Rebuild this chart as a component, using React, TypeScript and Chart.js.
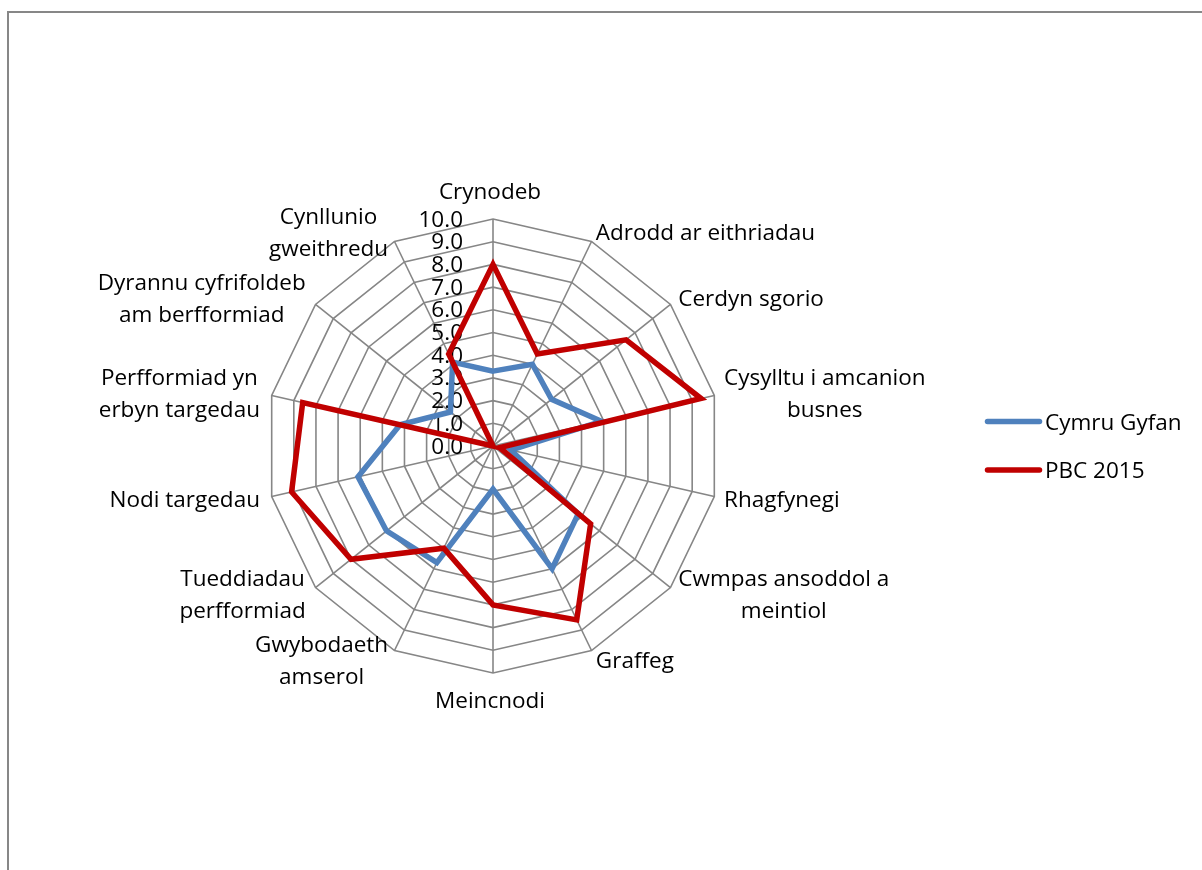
import React, { useEffect, useRef } from "react";
import { Chart, registerables } from "chart.js";

Chart.register(...registerables);

// ---- data ----
const categories: string[][] = [
  ["Crynodeb"],
  ["Adrodd ar eithriadau"],
  ["Cerdyn sgorio"],
  ["Cysylltu i amcanion", "busnes"],
  ["Rhagfynegi"],
  ["Cwmpas ansoddol a", "meintiol"],
  ["Graffeg"],
  ["Meincnodi"],
  ["Gwybodaeth", "amserol"],
  ["Tueddiadau", "perfformiad"],
  ["Nodi targedau"],
  ["Perfformiad yn", "erbyn targedau"],
  ["Dyrannu cyfrifoldeb", "am berfformiad"],
  ["Cynllunio", "gweithredu"],
];
const seriesNames = ["Cymru Gyfan", "PBC 2015"];
const cymruGyfan = [3.3, 4.0, 3.3, 4.9, 0.8, 4.8, 6.0, 1.9, 5.7, 6.0, 6.1, 4.2, 2.4, 4.1];
const pbc2015 = [8.0, 4.5, 7.5, 9.4, 0.3, 5.5, 8.5, 7.0, 5.0, 8.0, 9.1, 8.6, 0.0, 4.5];
const tickValues = [0, 1, 2, 3, 4, 5, 6, 7, 8, 9, 10];
const tickLabels = ["0.0", "1.0", "2.0", "3.0", "4.0", "5.0", "6.0", "7.0", "8.0", "9.0", "10.0"];

// ---- styles ----
const FONT = '"Open Sans", "Noto Sans", sans-serif';
const FONT_SIZE = 22.5;
const BLUE = "#4F81BD";
const RED = "#C00000";
const GRID = "#868686";

const labelsPlugin = {
  id: "excelLabels",
  beforeDatasetsDraw(chart: any) {
    const ctx = chart.ctx as CanvasRenderingContext2D;
    const r = chart.scales.r;
    ctx.save();
    ctx.font = `${FONT_SIZE}px ${FONT}`;
    ctx.fillStyle = "#000";
    ctx.textBaseline = "alphabetic";
    // tick labels
    ctx.textAlign = "right";
    tickLabels.forEach((t, i) => {
      const d = r.getDistanceFromCenterForValue(tickValues[i]);
      ctx.fillText(t, r.xCenter - 30, r.yCenter - d + 7.5);
    });
    // point labels
    const R = r.drawingArea;
    ctx.textAlign = "center";
    categories.forEach((lines, i) => {
      const p = r.getPointPosition(i, R + 10);
      const hx = Math.cos(p.angle);
      const vy = Math.sin(p.angle);
      const bw = Math.max(...lines.map((l) => ctx.measureText(l).width));
      const n = lines.length;
      let cx: number;
      let mid: number;
      if (Math.abs(hx) < 0.1) {
        cx = p.x - 3;
        mid = vy < 0 ? p.y - 18 : p.y + 17;
      } else if (hx > 0) {
        cx = p.x + bw / 2;
        mid = p.y;
      } else {
        cx = p.x - 2 - bw / 2;
        mid = p.y;
      }
      lines.forEach((l, k) => {
        ctx.fillText(l, cx, mid + 8 - (n - 1) * 16 + k * 32);
      });
    });
    ctx.restore();
  },
  afterDraw(chart: any) {
    const ctx = chart.ctx as CanvasRenderingContext2D;
    ctx.save();
    ctx.font = `${FONT_SIZE}px ${FONT}`;
    ctx.textAlign = "left";
    ctx.textBaseline = "alphabetic";
    chart.data.datasets.forEach((ds: any, i: number) => {
      const y = 421.5 + i * 48.5;
      ctx.strokeStyle = ds.borderColor;
      ctx.lineWidth = 5.5;
      ctx.lineCap = "round";
      ctx.beginPath();
      ctx.moveTo(987.5, y);
      ctx.lineTo(1039.5, y);
      ctx.stroke();
      ctx.fillStyle = "#000";
      ctx.fillText(ds.label, 1045, y + 8);
    });
    ctx.restore();
  },
};

export default function App() {
  const ref = useRef<HTMLCanvasElement | null>(null);
  useEffect(() => {
    if (!ref.current) return;
    const chart = new Chart(ref.current, {
      type: "radar",
      data: {
        labels: categories,
        datasets: [
          {
            label: seriesNames[0],
            data: cymruGyfan,
            borderColor: BLUE,
            backgroundColor: BLUE,
            borderWidth: 5.5,
            pointRadius: 0,
            pointHoverRadius: 0,
            fill: false,
            order: 1,
          },
          {
            label: seriesNames[1],
            data: pbc2015,
            borderColor: RED,
            backgroundColor: RED,
            borderWidth: 5.5,
            pointRadius: 0,
            pointHoverRadius: 0,
            fill: false,
            order: 0,
          },
        ],
      },
      options: {
        responsive: false,
        animation: false,
        devicePixelRatio: 1,
        layout: { padding: { left: 266, right: 482, top: 219, bottom: 197 } },
        plugins: {
          legend: { display: false },
          tooltip: { enabled: false },
        },
        elements: { line: { tension: 0, borderJoinStyle: "miter" } },
        scales: {
          r: {
            min: 0,
            max: 10,
            beginAtZero: true,
            ticks: { stepSize: 1, display: false },
            pointLabels: { display: false },
            grid: { color: GRID, lineWidth: 1.6, circular: false },
            angleLines: { color: GRID, lineWidth: 1.6 },
          },
        },
      },
      plugins: [labelsPlugin],
    });
    return () => chart.destroy();
  }, []);

  return (
    <div>
      <div
        style={{
          position: "fixed",
          left: 7,
          top: 11,
          width: 2000,
          height: 2000,
          borderLeft: "2px solid #878787",
          borderTop: "2px solid #878787",
          pointerEvents: "none",
        }}
      />
      <canvas
        ref={ref}
        width={1202}
        height={870}
        style={{ position: "fixed", left: 0, top: 0, width: 1202, height: 870, display: "block" }}
      />
    </div>
  );
}
